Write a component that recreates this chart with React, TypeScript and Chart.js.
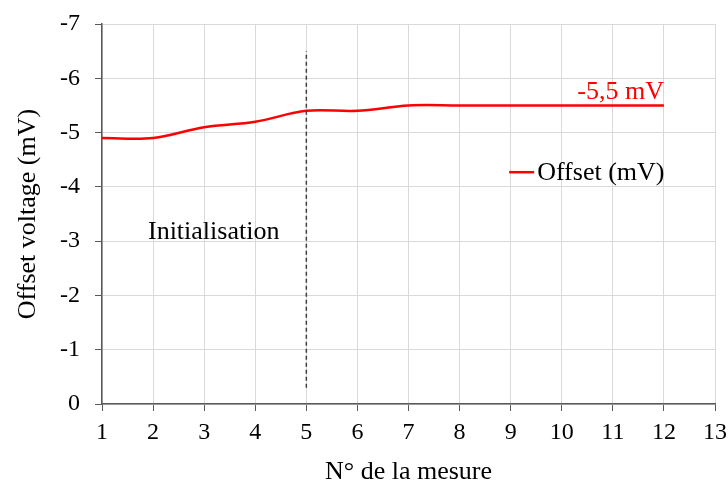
import React, { useEffect, useRef } from "react";
import { Chart, registerables } from "chart.js";

Chart.register(...registerables);

const measureNumbers = [1, 2, 3, 4, 5, 6, 7, 8, 9, 10, 11, 12];
const offsetValues = [-4.9, -4.9, -5.1, -5.2, -5.4, -5.4, -5.5, -5.5, -5.5, -5.5, -5.5, -5.5];
const seriesLabel = "Offset (mV)";
const finalLabel = "-5,5 mV";
const phaseLabel = "Initialisation";
const phaseEnd = 5;
const dashFrom = -0.3;
const dashTo = -6.5;
const phaseLabelPos = { x: 1.9, y: -3.04 };
const legendPos = { x: 8.97, y: -4.27 };

const FONT = "'Liberation Serif', 'Times New Roman', serif";

const annotationPlugin = {
  id: "annotations",
  afterDatasetsDraw(chart: any) {
    const { ctx, scales } = chart;
    const xs = scales.x;
    const ys = scales.y;
    ctx.save();
    // dashed vertical line
    ctx.strokeStyle = "#404040";
    ctx.lineWidth = 1.5;
    ctx.setLineDash([4, 3]);
    ctx.beginPath();
    const px = xs.getPixelForValue(phaseEnd);
    ctx.moveTo(px, ys.getPixelForValue(dashFrom));
    ctx.lineTo(px, ys.getPixelForValue(dashTo));
    ctx.stroke();
    ctx.setLineDash([]);

    ctx.font = `26px ${FONT}`;
    // final value label
    const lastX = xs.getPixelForValue(measureNumbers[measureNumbers.length - 1]);
    const lastY = ys.getPixelForValue(offsetValues[offsetValues.length - 1]);
    ctx.fillStyle = "#ff0000";
    ctx.textAlign = "right";
    ctx.textBaseline = "alphabetic";
    ctx.fillText(finalLabel, lastX, lastY - 6);

    // phase label
    ctx.fillStyle = "#000000";
    ctx.textAlign = "left";
    ctx.textBaseline = "alphabetic";
    ctx.fillText(phaseLabel, xs.getPixelForValue(phaseLabelPos.x), ys.getPixelForValue(phaseLabelPos.y));

    // legend
    const lx = xs.getPixelForValue(legendPos.x);
    const ly = ys.getPixelForValue(legendPos.y);
    ctx.strokeStyle = "#ff0000";
    ctx.lineWidth = 2.5;
    ctx.beginPath();
    ctx.moveTo(lx, ly);
    ctx.lineTo(lx + 25, ly);
    ctx.stroke();
    ctx.fillStyle = "#000000";
    ctx.textBaseline = "middle";
    ctx.fillText(seriesLabel, lx + 28, ly + 1);
    ctx.restore();
  },
};

function fixPadding(scale: any) {
  scale.paddingTop = 0;
  scale.paddingBottom = 0;
  scale.paddingLeft = 0;
  scale.paddingRight = 0;
}

export default function App() {
  const canvasRef = useRef<HTMLCanvasElement | null>(null);

  useEffect(() => {
    document.body.style.margin = "0";
    const canvas = canvasRef.current;
    if (!canvas) return;
    const chart = new Chart(canvas, {
      type: "line",
      data: {
        datasets: [
          {
            label: seriesLabel,
            data: measureNumbers.map((x, i) => ({ x, y: offsetValues[i] })),
            borderColor: "#ff0000",
            backgroundColor: "#ff0000",
            borderWidth: 2.5,
            pointRadius: 0,
            tension: 0.35,
            fill: false,
          },
        ],
      },
      options: {
        animation: false,
        responsive: false,
        maintainAspectRatio: false,
        layout: { padding: { top: 24, right: 13, left: 0, bottom: 0 } },
        plugins: {
          legend: { display: false },
          tooltip: { enabled: false },
        },
        scales: {
          x: {
            type: "linear",
            min: 1,
            max: 13,
            ticks: {
              stepSize: 1,
              padding: 7,
              color: "#000",
              font: { family: FONT, size: 24 },
            },
            grid: {
              color: "#d9d9d9",
              lineWidth: 1,
              tickLength: 7,
              tickColor: "#595959",
            },
            border: { color: "#595959", width: 1.5 },
            title: {
              display: true,
              text: "N° de la mesure",
              color: "#000",
              font: { family: FONT, size: 26 },
              padding: { top: 0, bottom: -2 },
            },
            afterFit(scale: any) {
              scale.height = 82;
              fixPadding(scale);
            },
          },
          y: {
            type: "linear",
            min: -7,
            max: 0,
            reverse: true,
            ticks: {
              stepSize: 1,
              padding: 15,
              color: "#000",
              font: { family: FONT, size: 24 },
            },
            grid: {
              color: "#d9d9d9",
              lineWidth: 1,
              tickLength: 7,
              tickColor: "#595959",
            },
            border: { color: "#595959", width: 1.5 },
            title: {
              display: true,
              text: "Offset voltage (mV)",
              color: "#000",
              font: { family: FONT, size: 26 },
              padding: { top: 13, bottom: 0 },
            },
            afterFit(scale: any) {
              scale.width = 102;
              fixPadding(scale);
            },
          },
        },
      },
      plugins: [annotationPlugin],
    } as any);
    return () => chart.destroy();
  }, []);

  return (
    <div style={{ width: 728, height: 486, background: "#fff" }}>
      <canvas ref={canvasRef} width={728} height={486} style={{ width: 728, height: 486 }} />
    </div>
  );
}
